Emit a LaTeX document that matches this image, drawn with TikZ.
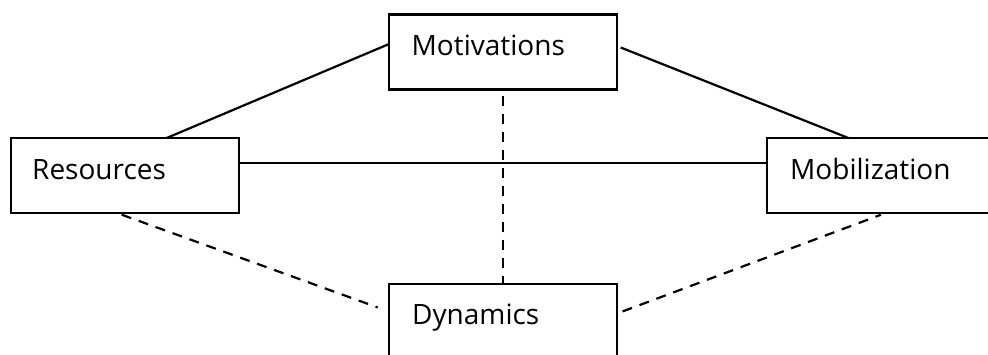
\documentclass[tikz,border=0pt]{standalone}
\usepackage{fontspec}
\setmainfont{Open Sans}
\begin{document}
\begin{tikzpicture}[x=1pt,y=-1pt,
  conceptbox/.style={draw=black, line width=2.2pt, fill=white, rectangle,
    minimum width=228pt, minimum height=75pt, inner sep=0pt, outer sep=0pt},
  boxlabel/.style={anchor=base west, inner sep=0pt, font=\fontsize{28}{30}\selectfont},
  solidlink/.style={draw=black, line width=2.2pt},
  dashlink/.style={draw=black, line width=2.2pt, dash pattern=on 10pt off 8pt}]
\useasboundingbox (0,0) rectangle (988,354);
\clip (0,0) rectangle (988,354);
% boxes
\node[conceptbox] (mot) at (503,52) {};
\node[conceptbox] (res) at (125,175.5) {};
\node[conceptbox] (mob) at (881,175.5) {};
\node[conceptbox] (dyn) at (503,321.5) {};
% labels
\node[boxlabel] (motT) at ([xshift=22.5pt,yshift=-40.5pt]mot.north west) {Motivations};
\node[boxlabel] (resT) at ([xshift=21pt,yshift=-41pt]res.north west) {Resources};
\node[boxlabel] (mobT) at ([xshift=23pt,yshift=-41pt]mob.north west) {Mobilization};
\node[boxlabel] (dynT) at ([xshift=23pt,yshift=-40pt]dyn.north west) {Dynamics};
% solid connectors
\draw[solidlink] (res.42.4) -- (mot.176);
\draw[solidlink, shorten <=4pt] (mot.3.5) -- (mob.131.3);
\draw[solidlink] ([yshift=12.5pt]res.east) -- ([yshift=12.5pt]mob.west);
% dashed connectors
\draw[dashlink, shorten <=6pt] (mot.south) -- (dyn.north);
\draw[dashlink, shorten <=5pt, shorten >=12pt] (res.258) -- (dyn.175.7);
\draw[dashlink, shorten <=6pt, shorten >=5pt] (dyn.4.3) -- (mob.277.6);
\end{tikzpicture}
\end{document}
